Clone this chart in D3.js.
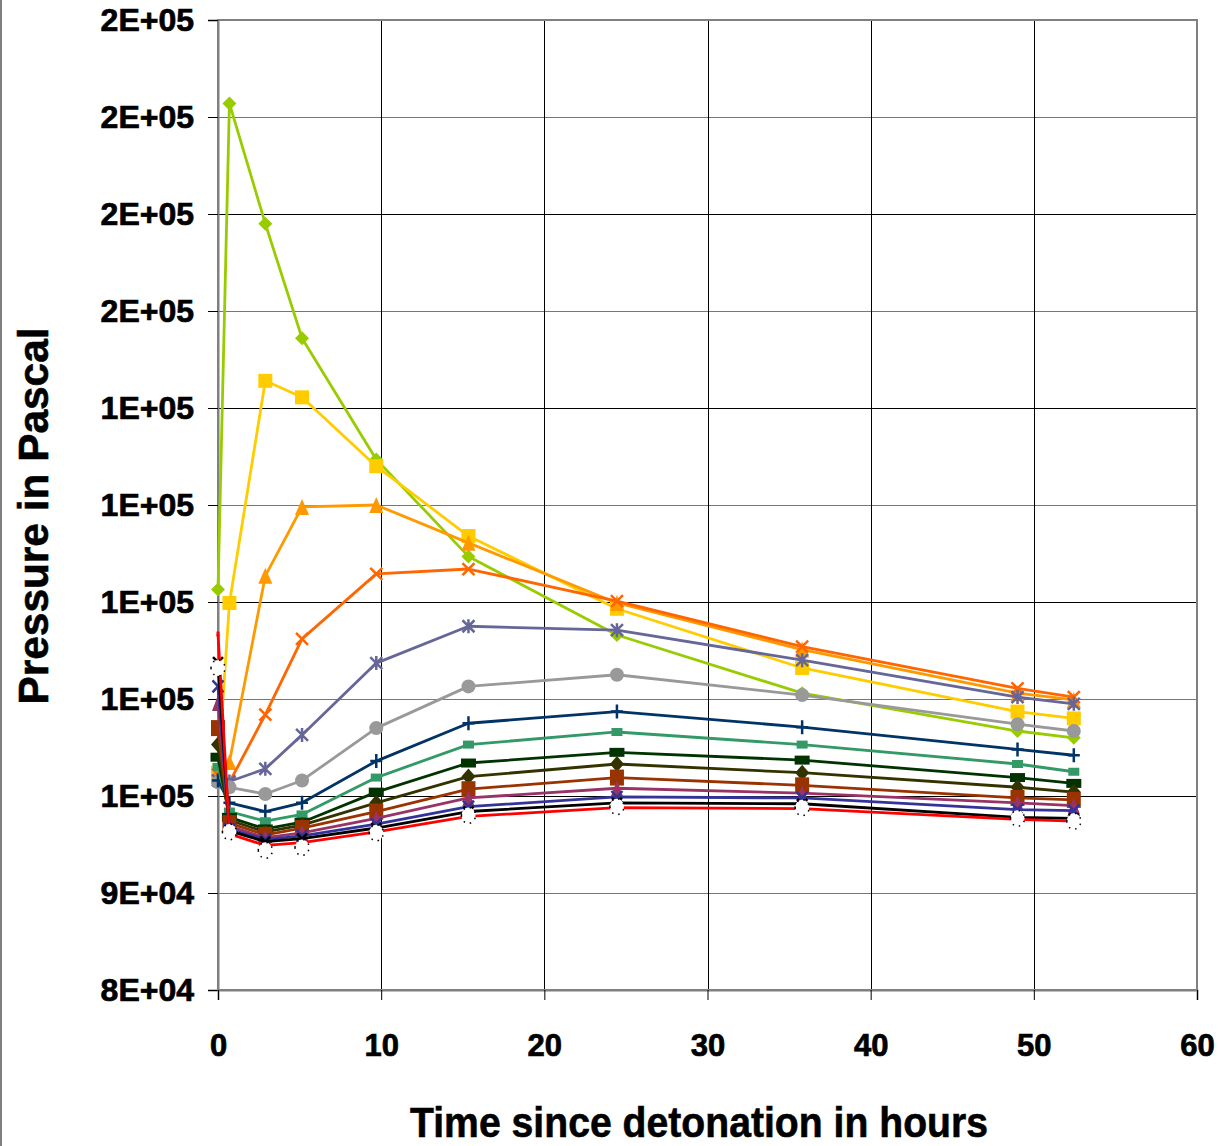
<!DOCTYPE html>
<html>
<head>
<meta charset="utf-8">
<script src="https://cdn.jsdelivr.net/npm/d3@7"></script>
<style>
  html, body { margin: 0; padding: 0; background: #fff; }
  svg { display: block; font-family: "Liberation Sans", Arial, sans-serif; }
</style>
</head>
<body>
<svg id="chart" width="1218" height="1146"></svg>
<script>
// hours after detonation (x) for every series
const hours = [0, 0.7, 2.9, 5.15, 9.7, 15.35, 24.45, 35.8, 49, 52.45];

// pressure in Pa, one array per curve
const limeVals   = [121300, 171400, 159000, 147200, 134700, 124700, 116600, 110600, 106700, 106000];
const yellowVals = [102400, 119900, 142800, 141100, 134000, 126800, 119300, 113200, 108700, 108000];
const orangeVals = [102700, 103500, 122700, 129800, 130000, 126100, 119900, 115100, 110600, 109900];
const redOrVals  = [102200, 101400, 108400, 116200, 122900, 123400, 120100, 115400, 111100, 110200];
const slateVals  = [101600, 101500, 102800, 106300, 113700, 117500, 117100, 114000, 110200, 109500];
const grayVals   = [101400, 100900, 100200, 101600, 107000, 111300, 112500, 110400, 107400, 106700];
const navyVals   = [101600, 99300, 98400, 99300, 103600, 107500, 108700, 107100, 104800, 104200];
const tealVals   = [103000, 98400, 97400, 98100, 101900, 105300, 106600, 105300, 103300, 102500];
const dkGreenVals= [104000, 97800, 96600, 97300, 100400, 103400, 104500, 103700, 101900, 101300];
const oliveVals  = [105300, 97500, 96300, 97000, 99300, 102000, 103300, 102400, 100900, 100400];
const brownVals  = [107000, 97200, 96000, 96700, 98400, 100700, 101900, 101100, 99800, 99600];
const plumVals   = [109600, 96900, 95700, 96200, 97700, 99800, 100800, 100300, 99300, 99000];
const indigoVals = [111300, 96600, 95500, 95900, 97100, 98900, 99900, 99800, 98600, 98500];
const blackVals  = [113800, 96400, 95300, 95600, 96700, 98400, 99300, 99200, 97800, 97700];
const redVals    = [116700, 96100, 94900, 95200, 96300, 97900, 98800, 98700, 97600, 97400];
const whiteVals  = [113200, 96300, 94400, 94700, 96200, 98000, 98900, 98800, 97700, 97400];

const xTicks = d3.range(0, 61, 10);
const yTicks = d3.range(80000, 180001, 10000);

// drawing order = order in this list
const series = [
  { values: limeVals,    color: "#99CC00", marker: "diamond", mw: 7,  mh: 7 },
  { values: yellowVals,  color: "#FFCC00", marker: "square",  mw: 7,  mh: 7 },
  { values: orangeVals,  color: "#FF9900", marker: "triangle",mw: 7,  mh: 8 },
  { values: redOrVals,   color: "#FF6600", marker: "x",       mw: 6,  mh: 6 },
  { values: slateVals,   color: "#666699", marker: "star",    mw: 6,  mh: 6 },
  { values: grayVals,    color: "#999999", marker: "circle",  mw: 7,  mh: 7 },
  { values: navyVals,    color: "#003366", marker: "plus",    mw: 6,  mh: 7 },
  { values: tealVals,    color: "#339966", marker: "square",  mw: 5.5,mh: 4 },
  { values: dkGreenVals, color: "#003300", marker: "square",  mw: 7.5,mh: 4.5 },
  { values: oliveVals,   color: "#333300", marker: "diamond", mw: 7,  mh: 8 },
  { values: brownVals,   color: "#993300", marker: "square",  mw: 7,  mh: 8 },
  { values: plumVals,    color: "#993366", marker: "triangle",mw: 6,  mh: 8 },
  { values: indigoVals,  color: "#333399", marker: "x",       mw: 5.5,mh: 6 },
  { values: blackVals,   color: "#000000", marker: "x",       mw: 5,  mh: 5 },
  { values: redVals,     color: "#FF0000", marker: "square",  mw: 1.5, mh: 2.5 },
  { values: whiteVals,   color: "none",    marker: "circle",  mw: 7,  mh: 8, fill: "#fff", outline: "#000" }
];

const svg = d3.select("#chart");
const m = { left: 218, right: 1197, top: 20, bottom: 990 };

const x = d3.scaleLinear().domain([0, 60]).range([m.left, m.right]);
const y = d3.scaleLinear().domain([80000, 180000]).range([m.bottom, m.top]);

// Excel style "0E+00"
function sci(v) {
  const [mant, ex] = v.toExponential(0).split("e");
  return mant + "E" + ex[0] + ex.slice(1).padStart(2, "0");
}

// outer chart border (left edge only shows)
svg.append("line").attr("x1", 1).attr("x2", 1).attr("y1", 0).attr("y2", 1146)
  .attr("stroke", "#7f7f7f").attr("stroke-width", 2);

// gridlines
svg.append("g").selectAll("line").data(yTicks.slice(1)).join("line")
  .attr("x1", m.left).attr("x2", m.right)
  .attr("y1", d => Math.round(y(d)) + 0.5).attr("y2", d => Math.round(y(d)) + 0.5)
  .attr("stroke", d => (d / 10000) % 2 === 0 ? "#000" : "#777")
  .attr("stroke-width", 1);
svg.append("g").selectAll("line").data(xTicks.slice(1)).join("line")
  .attr("y1", m.top).attr("y2", m.bottom)
  .attr("x1", d => Math.round(x(d)) + 0.5).attr("x2", d => Math.round(x(d)) + 0.5)
  .attr("stroke", "#000").attr("stroke-width", 1);

// plot frame
svg.append("rect").attr("x", m.left).attr("y", m.top)
  .attr("width", m.right - m.left).attr("height", m.bottom - m.top)
  .attr("fill", "none").attr("stroke", "#808080").attr("stroke-width", 2);

// axes
const yAxis = svg.append("g").attr("transform", `translate(${m.left},0)`)
  .call(d3.axisLeft(y).tickValues(yTicks).tickFormat(sci).tickSize(10).tickPadding(14));
const xAxis = svg.append("g").attr("transform", `translate(0,${m.bottom})`)
  .call(d3.axisBottom(x).tickValues(xTicks).tickFormat(d3.format("d")).tickSize(10).tickPadding(34));
[yAxis, xAxis].forEach(a => {
  a.select(".domain").attr("stroke", "#808080").attr("stroke-width", 2);
  a.selectAll(".tick line").attr("stroke", "#000").attr("stroke-width", 1);
  a.selectAll(".tick text").attr("fill", "#000").attr("stroke", "#000").attr("stroke-width", 0.7)
    .style("font-size", "32px").style("font-weight", "bold");
});
xAxis.selectAll(".tick text").style("font-size", "31px");

// axis titles
svg.append("text").attr("x", 699).attr("y", 1137).attr("text-anchor", "middle")
  .attr("textLength", 578).attr("lengthAdjust", "spacingAndGlyphs")
  .attr("stroke", "#000").attr("stroke-width", 0.6)
  .style("font-size", "43px").style("font-weight", "bold").text("Time since detonation in hours");
svg.append("text").attr("transform", "translate(48,516) rotate(-90)").attr("text-anchor", "middle")
  .attr("textLength", 377).attr("lengthAdjust", "spacingAndGlyphs")
  .attr("stroke", "#000").attr("stroke-width", 0.6)
  .style("font-size", "43px").style("font-weight", "bold").text("Pressure in Pascal");

// marker paths centred on 0,0
function markerPath(type, w, h) {
  switch (type) {
    case "diamond": return `M0,${-h}L${w},0L0,${h}L${-w},0Z`;
    case "square": return `M${-w},${-h}H${w}V${h}H${-w}Z`;
    case "triangle": return `M0,${-h}L${w},${h}H${-w}Z`;
    case "circle": return `M${-w},0A${w},${h} 0 1,0 ${w},0A${w},${h} 0 1,0 ${-w},0Z`;
    case "x": return `M${-w},${-h}L${w},${h}M${-w},${h}L${w},${-h}`;
    case "star": return `M${-w},${-h}L${w},${h}M${-w},${h}L${w},${-h}M0,${-h - 1}V${h + 1}`;
    case "plus": return `M0,${-h}V${h}M${-w},0H${w}`;
  }
}
const stroked = new Set(["x", "star", "plus"]);

const line = d3.line().x((d, i) => x(hours[i])).y(d => y(d));

series.forEach(s => {
  const g = svg.append("g");
  if (s.color !== "none") {
    g.append("path").datum(s.values).attr("d", line)
      .attr("fill", "none").attr("stroke", s.color).attr("stroke-width", 2.8)
      .attr("stroke-linejoin", "round");
  }
  const mk = g.selectAll("path.mk").data(s.values).join("path").attr("class", "mk")
    .attr("transform", (d, i) => `translate(${x(hours[i])},${y(d)})`)
    .attr("d", markerPath(s.marker, s.mw, s.mh));
  if (stroked.has(s.marker)) {
    mk.attr("fill", "none").attr("stroke", s.color).attr("stroke-width", 2.5);
  } else if (s.outline) {
    mk.attr("fill", s.fill).attr("stroke", s.outline).attr("stroke-width", 1.5)
      .attr("stroke-dasharray", "1.5,5");
  } else {
    mk.attr("fill", s.color).attr("stroke", "none");
  }
});
</script>
</body>
</html>
